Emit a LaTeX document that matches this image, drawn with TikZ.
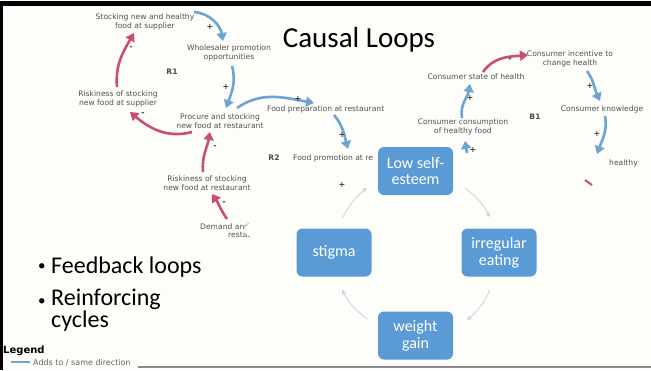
\documentclass[tikz,border=0pt]{standalone}
\usepackage{fontspec}
\setmainfont{Carlito}
\newfontfamily\lblfont{DejaVu Sans}
\usetikzlibrary{arrows.meta}
\definecolor{bgc}{HTML}{FDFDF9}
\definecolor{ablue}{HTML}{6FA3D4}
\definecolor{ared}{HTML}{C94F6D}
\definecolor{boxblue}{HTML}{5B9BD5}
\definecolor{lblc}{HTML}{505050}
\definecolor{cyc}{HTML}{C5D3E2}
\tikzset{
 lbl/.style={font=\lblfont\fontsize{7.6}{9.5}\selectfont, text=lblc, align=center, inner sep=0},
 loopname/.style={font=\lblfont\bfseries\fontsize{7.6}{9}\selectfont, text=black!70, inner sep=0},
 sgn/.style={font=\lblfont\bfseries\fontsize{8}{9}\selectfont, text=black!75, inner sep=0},
 barrow/.style={draw=ablue, line width=2.6pt, -{Triangle[width=10pt,length=8pt]}},
 rarrow/.style={draw=ared, line width=2.6pt, -{Triangle[width=10pt,length=8pt]}},
 cbox/.style={fill=boxblue, rounded corners=6pt, text=white, font=\fontsize{16}{17}\selectfont, align=center, minimum width=75pt, minimum height=48pt, inner sep=0},
 carrow/.style={draw=cyc, line width=0.8pt, -{Stealth[width=5pt,length=5pt]}},
 bul/.style={font=\fontsize{24}{19}\selectfont, anchor=base west, align=left, inner sep=0},
 buldot/.style={font=\fontsize{15}{16}\selectfont, anchor=base west, inner sep=0},
}
\begin{document}
\begin{tikzpicture}[x=1pt,y=-1pt]
\useasboundingbox (0,0) rectangle (651,370);
\fill[bgc] (0,0) rectangle (651,370);
% frame
\fill[black] (0,1) rectangle (651,6);
\fill[black] (0,1) rectangle (3,370);
\fill[black!45] (138,366) rectangle (651,368);

% title
\node[font=\fontsize{29}{30}\selectfont, anchor=base, inner sep=0] (title) at (359,47) {Causal Loops};

% causal loop labels
\node[lbl] (stock) at (145,22) {Stocking new and healthy\\food at supplier};
\node[lbl] (whole) at (229,53) {Wholesaler promotion\\opportunities};
\node[loopname] (r1) at (172,72) {R1};
\node[lbl] (risksup) at (118,99) {Riskiness of stocking\\new food at supplier};
\node[lbl] (procure) at (220,121) {Procure and stocking\\new food at restaurant};
\node[lbl, anchor=west] (prep) at (267,109) {Food preparation at restaurant};
\node[loopname] (r2) at (274,158) {R2};
\node[lbl, anchor=west] (promo) at (293,158) {Food promotion at re};
\node[lbl] (riskres) at (207,183) {Riskiness of stocking\\new food at restaurant};
\node[lbl, anchor=west] (demand) at (200,227) {Demand and};
\node[lbl, anchor=west] (demand2) at (228,235) {restaurant};
\shade[inner color=white, outer color=bgc] (268,230) ellipse (24 and 10);

\node[lbl] (incent) at (570,59) {Consumer incentive to\\change health};
\node[lbl] (state) at (476,77) {Consumer state of health};
\node[lbl] (know) at (602,109) {Consumer knowledge};
\node[loopname] (b1) at (535,117) {B1};
\node[lbl] (cons) at (463,127) {Consumer consumption\\of healthy food};
\node[lbl, anchor=west] (healthy) at (609,163) {healthy};

% arrow end points
\coordinate (a1s) at (194,12);  \coordinate (a1e) at (223,41);
\coordinate (a2s) at (232,66);  \coordinate (a2e) at (226,108);
\coordinate (a3s) at (237,108); \coordinate (a3e) at (314,103);
\coordinate (a4s) at (334,115); \coordinate (a4e) at (348,149);
\coordinate (a5s) at (462,118); \coordinate (a5e) at (470,84);
\coordinate (a6s) at (587,71);  \coordinate (a6e) at (600,101);
\coordinate (a7s) at (605,116); \coordinate (a7e) at (597,154);
\coordinate (a8s) at (467,153); \coordinate (a8e) at (465,141);
\coordinate (r1s) at (117,87);  \coordinate (r1e) at (134,33);
\coordinate (r2s) at (192,132); \coordinate (r2e) at (130,112);
\coordinate (r3s) at (203,172); \coordinate (r3e) at (210,132);
\coordinate (r4s) at (227,219); \coordinate (r4e) at (212,194);
\coordinate (r5s) at (483,72);  \coordinate (r5e) at (528,55);

% blue arrows
\draw[barrow] (a1s) to[out=-5,in=100] (a1e);
\draw[barrow] (a2s) to[out=-75,in=70] (a2e);
\draw[barrow] (a3s) to[out=35,in=170] (a3e);
\draw[barrow] (a4s) to[out=-50,in=105] (a4e);
\draw[barrow] (a5s) to[out=100,in=-100] (a5e);
\draw[barrow] (a6s) to[out=-55,in=115] (a6e);
\draw[barrow] (a7s) to[out=-80,in=70] (a7e);
\draw[barrow] (a8s) -- (a8e);
% red arrows
\draw[rarrow] (r1s) to[out=95,in=-120] (r1e);
\draw[rarrow] (r2s) to[out=195,in=-40] (r2e);
\draw[rarrow] (r3s) to[out=95,in=-100] (r3e);
\draw[rarrow] (r4s) to[out=125,in=-55] (r4e);
\draw[rarrow] (r5s) to[out=55,in=185] (r5e);
\coordinate (rs1) at (585,180); \coordinate (rs2) at (592,185);
\draw[ared, line width=2pt] (rs1) -- (rs2);

% signs
\node[sgn] (p1) at (210,27) {+};
\node[sgn] (p2) at (226,87) {+};
\node[sgn] (p3) at (298,99) {+};
\node[sgn] (p4) at (342,135) {+};
\node[sgn] (p5) at (342,185) {+};
\node[sgn] (p6) at (470,98) {+};
\node[sgn] (p7) at (590,86) {+};
\node[sgn] (p8) at (597,134) {+};
\node[sgn] (p9) at (473,150) {+};
\node[sgn] (m1) at (131,48) {-};
\node[sgn] (m2) at (143,114) {-};
\node[sgn] (m3) at (215,147) {-};
\node[sgn] (m4) at (224,203) {-};
\node[sgn] (m5) at (510,60) {-};

% cycle
\node[cbox] (low) at (415.5,171) {Low self-\\esteem};
\node[cbox] (irr) at (499,252.5) {irregular\\eating};
\node[cbox] (wg) at (415.5,335.5) {weight\\gain};
\node[cbox] (stig) at (334,252.5) {stigma};
\coordinate (c1s) at (465,188); \coordinate (c1e) at (490,217);
\coordinate (c2s) at (490,290); \coordinate (c2e) at (467,320);
\coordinate (c3s) at (367,319); \coordinate (c3e) at (342,290);
\coordinate (c4s) at (343,217); \coordinate (c4e) at (367,188);
\draw[carrow] (c1s) to[bend left=12] (c1e);
\draw[carrow] (c2s) to[bend left=12] (c2e);
\draw[carrow] (c3s) to[bend left=12] (c3e);
\draw[carrow] (c4s) to[bend left=12] (c4e);

% bullets
\node[buldot] (b1a) at (38,270) {\textbullet};
\node[bul] (b1t) at (51,273) {Feedback loops};
\node[buldot] (b2a) at (38,305) {\textbullet};
\node[bul] (b2t) at (51,327) {Reinforcing\\cycles};

% legend
\node[font=\lblfont\bfseries\fontsize{10}{11}\selectfont, anchor=base west, inner sep=0] (leg) at (3,353) {Legend};
\coordinate (l1) at (11,362); \coordinate (l2) at (30,362);
\draw[ablue, line width=2.2pt] (l1) -- (l2);
\node[font=\lblfont\fontsize{8}{9}\selectfont, text=black!60, anchor=west, inner sep=0] (adds) at (33,363) {Adds to / same direction};
\end{tikzpicture}
\end{document}
